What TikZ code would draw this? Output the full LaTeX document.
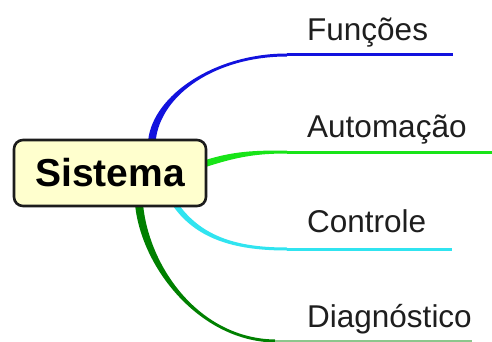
\documentclass[tikz,border=0pt]{standalone}
\usepackage{fontspec}
\setmainfont{Liberation Sans}
\usetikzlibrary{calc}

\definecolor{brBlue}{RGB}{18,18,222}
\definecolor{brLime}{RGB}{24,228,24}
\definecolor{brCyan}{RGB}{48,228,240}
\definecolor{brDark}{RGB}{0,128,0}
\definecolor{boxFill}{RGB}{255,255,206}
\definecolor{boxLine}{RGB}{28,28,28}
\definecolor{txtGray}{RGB}{30,30,30}

\tikzset{
  rootbox/.style={draw=boxLine, fill=boxFill, line width=2.6pt, rounded corners=9pt,
    minimum width=192pt, minimum height=66pt, inner sep=0pt,
    font=\fontsize{39}{44}\selectfont\bfseries, text=black},
  lbl/.style={anchor=base west, inner sep=0pt, text=txtGray,
    font=\fontsize{31.5}{36}\selectfont},
  stem/.style={line width=3pt}
}

\begin{document}
\begin{tikzpicture}[x=1pt,y=-1pt]
\useasboundingbox (0,0) rectangle (492,342);
\fill[white] (0,0) rectangle (492,342);

% branch geometry: root, two control points, junction, end of underline
\coordinate (bR) at (152,140);  \coordinate (bC1) at (157,95);
\coordinate (bC2) at (215,55);  \coordinate (bJ) at (287,55);  \coordinate (bE) at (453,55);
\coordinate (gR) at (204,164);  \coordinate (gC1) at (235,154);
\coordinate (gC2) at (255,152); \coordinate (gJ) at (287,152); \coordinate (gE) at (492,152);
\coordinate (cR) at (175,204);  \coordinate (cC1) at (200,240);
\coordinate (cC2) at (240,249); \coordinate (cJ) at (287,249); \coordinate (cE) at (452,249);
\coordinate (dR) at (139,204);  \coordinate (dC1) at (145,268);
\coordinate (dC2) at (200,340); \coordinate (dJ) at (275,341); \coordinate (dE) at (472,341);

% tapered curves (thick at the root, thin at the junction)
\fill[brBlue] ($(bR)+(-3.8,0)$) .. controls ($(bC1)+(-3.8,0)$) and ($(bC2)+(0,-1.5)$) .. ($(bJ)+(0,-1.5)$)
  -- ($(bJ)+(0,1.5)$) .. controls ($(bC2)+(0,1.5)$) and ($(bC1)+(3.8,0)$) .. ($(bR)+(3.8,0)$) -- cycle;
\fill[brLime] ($(gR)+(-1,-3.2)$) .. controls ($(gC1)+(-1,-3.2)$) and ($(gC2)+(0,-1.5)$) .. ($(gJ)+(0,-1.5)$)
  -- ($(gJ)+(0,1.5)$) .. controls ($(gC2)+(0,1.5)$) and ($(gC1)+(1,3.2)$) .. ($(gR)+(1,3.2)$) -- cycle;
\fill[brCyan] ($(cR)+(2.2,-1.6)$) .. controls ($(cC1)+(2.2,-1.6)$) and ($(cC2)+(0,-1.5)$) .. ($(cJ)+(0,-1.5)$)
  -- ($(cJ)+(0,1.5)$) .. controls ($(cC2)+(0,1.5)$) and ($(cC1)+(-2.2,1.6)$) .. ($(cR)+(-2.2,1.6)$) -- cycle;
\fill[brDark] ($(dR)+(-4,0)$) .. controls ($(dC1)+(-4,0)$) and ($(dC2)+(0,1.5)$) .. ($(dJ)+(0,1.5)$)
  -- ($(dJ)+(0,-1.5)$) .. controls ($(dC2)+(0,-1.5)$) and ($(dC1)+(4,0)$) .. ($(dR)+(4,0)$) -- cycle;

% underlines
\draw[stem, brBlue] (bJ) -- (bE);
\draw[stem, brLime] (gJ) -- (gE);
\draw[stem, brCyan] (cJ) -- (cE);
\draw[line width=2pt, brDark!45] (dJ) -- (dE);

% central topic
\node[rootbox] (sys) at (110,173) {Sistema};

% branch labels
\node[lbl] (fun) at (307,41)  {Funções};
\node[lbl] (aut) at (307,137) {Automação};
\node[lbl] (ctl) at (307,232) {Controle};
\node[lbl] (dia) at (307,327) {Diagnóstico};
\end{tikzpicture}
\end{document}
